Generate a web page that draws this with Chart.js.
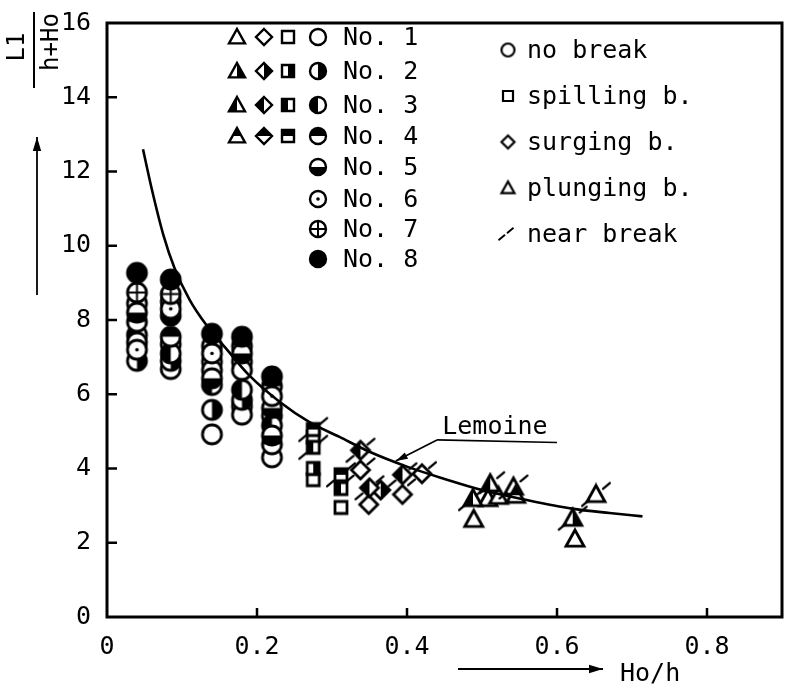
<!DOCTYPE html>
<html>
<head>
<meta charset="utf-8">
<script src="https://cdn.jsdelivr.net/npm/chart.js@4.4.0/dist/chart.umd.min.js"></script>
<style>
  html, body { margin: 0; padding: 0; background: #fff; }
  #wrap { width: 792px; height: 691px; }
</style>
</head>
<body>
<div id="wrap"><canvas id="chart" width="792" height="691"></canvas></div>
<script>
// axis ticks
const xTicks = [0, 0.2, 0.4, 0.6, 0.8];
const yTicks = [0, 2, 4, 6, 8, 10, 12, 14, 16];

// no break (circles), one list per run No.
const circleNo1 = [[0.04, 8.45], [0.085, 8.5], [0.085, 7.35], [0.085, 6.68], [0.14, 6.88], [0.14, 6.65], [0.14, 4.92], [0.18, 6.88], [0.18, 6.65], [0.18, 5.68], [0.18, 5.45], [0.22, 4.3]];
const circleNo2 = [[0.04, 6.9], [0.085, 6.9], [0.14, 5.58], [0.18, 5.85], [0.22, 5.42]];
const circleNo3 = [[0.04, 7.6], [0.085, 7.1], [0.14, 6.25], [0.18, 6.12], [0.22, 5.16]];
const circleNo4 = [[0.04, 7.95], [0.085, 7.55], [0.18, 7.3], [0.22, 6.22], [0.22, 4.65]];
const circleNo5 = [[0.04, 8.2], [0.04, 7.4], [0.085, 8.12], [0.14, 7.3], [0.14, 6.43], [0.18, 7.1], [0.22, 5.63], [0.22, 4.89]];
const circleNo6 = [[0.04, 7.2], [0.085, 8.3], [0.14, 7.1], [0.22, 5.95]];
const circleNo7 = [[0.04, 8.74], [0.085, 8.7]];
const circleNo8 = [[0.04, 9.27], [0.085, 9.09], [0.14, 7.63], [0.18, 7.55], [0.22, 6.48]];

// spilling breakers (squares)
const squareNo1 = [[0.275, 4.85], [0.275, 3.7], [0.312, 2.95]];
const squareNo2 = [[0.275, 4.0]];
const squareNo3 = [[0.275, 4.57], [0.312, 3.46]];
const squareNo4 = [[0.275, 5.05], [0.312, 3.83]];

// surging breakers (diamonds)
const diamondNo1 = [[0.338, 3.96], [0.349, 3.03], [0.394, 3.3], [0.42, 3.86]];
const diamondNo2 = [[0.365, 3.42]];
const diamondNo3 = [[0.338, 4.49], [0.35, 3.48], [0.394, 3.83]];

// plunging breakers (triangles)
const triangleNo1 = [[0.508, 3.19], [0.522, 3.25], [0.542, 3.5], [0.489, 2.63], [0.624, 2.1], [0.652, 3.3]];
const triangleNo2 = [[0.621, 2.66]];
const triangleNo3 = [[0.488, 3.19], [0.511, 3.59]];
const triangleNo4 = [[0.545, 3.28]];

// near break marks
const nearBreak = [[0.275, 5.05], [0.275, 4.57], [0.312, 3.83], [0.338, 4.49], [0.338, 3.96], [0.35, 3.48], [0.394, 3.83], [0.42, 3.86], [0.488, 3.19], [0.511, 3.59], [0.542, 3.5], [0.621, 2.66], [0.652, 3.3]];

// Lemoine curve
const lemoineX = [0.048, 0.06, 0.075, 0.09, 0.11, 0.133, 0.16, 0.19, 0.23, 0.27, 0.31, 0.35, 0.4, 0.45, 0.5, 0.56, 0.62, 0.67, 0.714];
const lemoineY = [12.6, 11.5, 10.3, 9.4, 8.55, 7.85, 7.2, 6.5, 5.8, 5.25, 4.85, 4.45, 4.05, 3.72, 3.42, 3.15, 2.92, 2.8, 2.71];

const FONT = '"DejaVu Sans Mono", "Liberation Mono", monospace';
const fills = ['open', 'right', 'left', 'top', 'bottom', 'dot', 'plus', 'full'];
const sizes = { circle: 19, square: 12, diamond: 18, triangle: 18 };

function symbol(shape, fill, size, lw) {
  const s = Math.ceil(size + 6);
  const c = document.createElement('canvas');
  c.width = s; c.height = s;
  const g = c.getContext('2d');
  const m = s / 2, r = size / 2;
  const path = () => {
    g.beginPath();
    if (shape === 'circle') g.arc(m, m, r, 0, Math.PI * 2);
    else if (shape === 'square') g.rect(m - r, m - r, size, size);
    else if (shape === 'diamond') { g.moveTo(m, m - r); g.lineTo(m + r, m); g.lineTo(m, m + r); g.lineTo(m - r, m); g.closePath(); }
    else { g.moveTo(m, m - r); g.lineTo(m + r, m + r * 0.8); g.lineTo(m - r, m + r * 0.8); g.closePath(); }
  };
  g.fillStyle = '#fff'; path(); g.fill();
  g.save(); path(); g.clip();
  g.fillStyle = '#000';
  if (fill === 'full') g.fillRect(0, 0, s, s);
  else if (fill === 'right') g.fillRect(m, 0, s, s);
  else if (fill === 'left') g.fillRect(0, 0, m, s);
  else if (fill === 'top') g.fillRect(0, 0, s, m);
  else if (fill === 'bottom') g.fillRect(0, m, s, s);
  g.restore();
  g.strokeStyle = '#000'; g.lineWidth = lw || 2.8; path(); g.stroke();
  if (fill === 'dot') { g.beginPath(); g.arc(m, m, 1.8, 0, Math.PI * 2); g.fillStyle = '#000'; g.fill(); }
  if (fill === 'plus') {
    g.beginPath(); g.moveTo(m - r, m); g.lineTo(m + r, m); g.moveTo(m, m - r); g.lineTo(m, m + r);
    g.lineWidth = 2; g.stroke();
  }
  return c;
}

function slashMark(len, gap, lw) {
  const s = Math.ceil(len * 2 + 4);
  const c = document.createElement('canvas');
  c.width = s; c.height = s;
  const g = c.getContext('2d');
  const m = s / 2, ux = Math.cos(Math.PI * 0.22), uy = -Math.sin(Math.PI * 0.22);
  g.strokeStyle = '#000'; g.lineWidth = lw; g.lineCap = 'round';
  g.beginPath();
  g.moveTo(m - len * ux, m - len * uy); g.lineTo(m - gap * ux, m - gap * uy);
  g.moveTo(m + gap * ux, m + gap * uy); g.lineTo(m + len * ux, m + len * uy);
  g.stroke();
  return c;
}

function pts(list) { return list.map(p => ({ x: p[0], y: p[1] })); }

function markerSet(list, shape, no) {
  return {
    type: 'scatter',
    data: pts(list),
    pointStyle: symbol(shape, fills[no - 1], sizes[shape]),
    pointRadius: 9,
    pointHoverRadius: 9,
    order: 10 - no
  };
}

const datasets = [
  {
    type: 'line',
    data: lemoineX.map((x, i) => ({ x: x, y: lemoineY[i] })),
    borderColor: '#000',
    borderWidth: 2.6,
    pointRadius: 0,
    cubicInterpolationMode: 'monotone',
    fill: false,
    order: 0
  },
  {
    type: 'scatter',
    data: pts(nearBreak),
    pointStyle: slashMark(18, 9, 2.3),
    pointRadius: 9,
    order: 1
  },
  markerSet(circleNo1, 'circle', 1), markerSet(circleNo2, 'circle', 2),
  markerSet(circleNo3, 'circle', 3), markerSet(circleNo4, 'circle', 4),
  markerSet(circleNo5, 'circle', 5), markerSet(circleNo6, 'circle', 6),
  markerSet(circleNo7, 'circle', 7), markerSet(circleNo8, 'circle', 8),
  markerSet(squareNo1, 'square', 1), markerSet(squareNo2, 'square', 2),
  markerSet(squareNo3, 'square', 3), markerSet(squareNo4, 'square', 4),
  markerSet(diamondNo1, 'diamond', 1), markerSet(diamondNo2, 'diamond', 2),
  markerSet(diamondNo3, 'diamond', 3),
  markerSet(triangleNo1, 'triangle', 1), markerSet(triangleNo2, 'triangle', 2),
  markerSet(triangleNo3, 'triangle', 3), markerSet(triangleNo4, 'triangle', 4)
];

function arrow(ctx, x1, y1, x2, y2, head) {
  const ang = Math.atan2(y2 - y1, x2 - x1);
  ctx.beginPath(); ctx.moveTo(x1, y1); ctx.lineTo(x2, y2); ctx.stroke();
  ctx.beginPath();
  ctx.moveTo(x2, y2);
  ctx.lineTo(x2 - head * Math.cos(ang) + head * 0.3 * Math.sin(ang), y2 - head * Math.sin(ang) - head * 0.3 * Math.cos(ang));
  ctx.lineTo(x2 - head * Math.cos(ang) - head * 0.3 * Math.sin(ang), y2 - head * Math.sin(ang) + head * 0.3 * Math.cos(ang));
  ctx.closePath(); ctx.fill();
}

const decor = {
  id: 'decor',
  afterDraw(chart) {
    const ctx = chart.ctx, a = chart.chartArea;
    const xs = chart.scales.x, ys = chart.scales.y;
    ctx.save();
    ctx.strokeStyle = '#000'; ctx.fillStyle = '#000';

    // frame and inward ticks
    ctx.lineWidth = 3;
    ctx.strokeRect(a.left, a.top, a.right - a.left, a.bottom - a.top);
    ctx.lineWidth = 2.5;
    ctx.beginPath();
    xTicks.forEach(v => {
      if (v > 0) { const px = xs.getPixelForValue(v); ctx.moveTo(px, a.bottom); ctx.lineTo(px, a.bottom - 9); }
    });
    yTicks.forEach(v => {
      if (v > 0 && v < 16) { const py = ys.getPixelForValue(v); ctx.moveTo(a.left, py); ctx.lineTo(a.left + 10, py); }
    });
    ctx.stroke();

    // y title: L1 / (h+Ho) rotated, with arrow
    ctx.save();
    ctx.rotate(-Math.PI / 2);
    ctx.font = '24px ' + FONT;
    ctx.textAlign = 'center'; ctx.textBaseline = 'middle';
    ctx.fillText('L1', -47, 18);
    ctx.fillText('h+Ho', -42, 52);
    ctx.restore();
    ctx.lineWidth = 2;
    ctx.beginPath(); ctx.moveTo(34, 12); ctx.lineTo(34, 88); ctx.stroke();
    ctx.lineWidth = 1.8;
    arrow(ctx, 37, 295, 37, 137, 14);

    // x title with arrow
    arrow(ctx, 458, 669, 603, 669, 14);
    ctx.font = '25px ' + FONT;
    ctx.textAlign = 'left'; ctx.textBaseline = 'middle';
    ctx.fillText('Ho/h', 620, 674);

    // Lemoine label and leader
    const tip = { x: xs.getPixelForValue(0.385), y: ys.getPixelForValue(4.2) };
    const knee = { x: xs.getPixelForValue(0.44), y: ys.getPixelForValue(4.77) };
    const end = { x: xs.getPixelForValue(0.6), y: ys.getPixelForValue(4.7) };
    ctx.lineWidth = 1.6;
    ctx.beginPath(); ctx.moveTo(end.x, end.y); ctx.lineTo(knee.x, knee.y); ctx.stroke();
    arrow(ctx, knee.x, knee.y, tip.x, tip.y, 12);
    ctx.font = '25px ' + FONT;
    ctx.textBaseline = 'alphabetic';
    ctx.fillText('Lemoine', xs.getPixelForValue(0.447), ys.getPixelForValue(4.93));

    // run number legend
    const rowsY = [37, 71, 105, 136, 167, 199, 229, 259];
    const cols = { triangle: 237, diamond: 264, square: 288, circle: 318 };
    for (let i = 0; i < 8; i++) {
      const shapes = i < 4 ? ['triangle', 'diamond', 'square', 'circle'] : ['circle'];
      shapes.forEach(sh => {
        const img = symbol(sh, fills[i], sh === 'square' ? 12 : 16, 2.4);
        ctx.drawImage(img, cols[sh] - img.width / 2, rowsY[i] - img.height / 2);
      });
      ctx.font = '25px ' + FONT;
      ctx.textBaseline = 'middle';
      ctx.fillText('No. ' + (i + 1), 343, rowsY[i] + 1);
    }

    // break type legend
    const typeY = [50, 96, 142, 188, 234];
    const kinds = [['circle', 'no break'], ['square', 'spilling b.'], ['diamond', 'surging b.'], ['triangle', 'plunging b.']];
    kinds.forEach((k, i) => {
      const img = symbol(k[0], 'open', k[0] === 'square' ? 10 : 13, 2.2);
      ctx.drawImage(img, 508 - img.width / 2, typeY[i] - img.height / 2);
      ctx.font = '25px ' + FONT;
      ctx.fillText(k[1], 527, typeY[i] + 1);
    });
    const sl = slashMark(9, 2, 2);
    ctx.drawImage(sl, 506 - sl.width / 2, typeY[4] - sl.height / 2);
    ctx.fillText('near break', 527, typeY[4] + 1);

    ctx.restore();
  }
};

new Chart(document.getElementById('chart'), {
  data: { datasets: datasets },
  options: {
    responsive: false,
    animation: false,
    devicePixelRatio: 1,
    events: [],
    layout: { padding: { left: 0, right: 7, top: 15, bottom: 0 } },
    plugins: { legend: { display: false }, tooltip: { enabled: false } },
    scales: {
      x: {
        type: 'linear', min: 0, max: 0.9,
        grid: { display: false }, border: { display: false },
        afterBuildTicks: s => { s.ticks = xTicks.map(v => ({ value: v })); },
        afterFit: s => { s.height = 74; },
        ticks: {
          color: '#000', padding: 7, maxRotation: 0,
          font: { family: FONT, size: 25 },
          callback: v => (v === 0 ? '0' : v.toFixed(1))
        }
      },
      y: {
        type: 'linear', min: 0, max: 16,
        grid: { display: false }, border: { display: false },
        afterBuildTicks: s => { s.ticks = yTicks.map(v => ({ value: v })); },
        afterFit: s => { s.width = 107; },
        ticks: {
          color: '#000', padding: 8,
          font: { family: FONT, size: 25 },
          callback: v => String(v)
        }
      }
    }
  },
  plugins: [decor]
});
</script>
</body>
</html>
